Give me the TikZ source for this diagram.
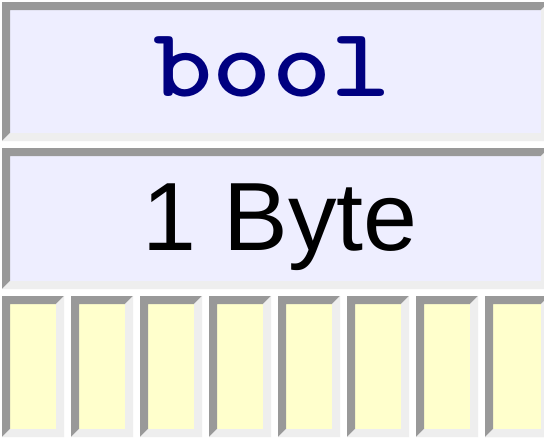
\documentclass[tikz,border=0pt]{standalone}
\usepackage{fontspec}
\usepackage{tikz}
\newfontfamily\labelfont{Liberation Sans}
\definecolor{bevelgray}{HTML}{999999}
\definecolor{bevellight}{HTML}{EEEEEE}
\definecolor{boxfill}{HTML}{EEEEFF}
\definecolor{bitfill}{HTML}{FFFFCC}
\definecolor{codeblue}{HTML}{000080}
% raised box: x0, y0, x1, y1, fill colour
\newcommand{\bevelrect}[5]{%
	\fill[#5] (#1+8,#2+8) rectangle (#3-8,#4-8);
	\fill[bevel dark] (#1,#2) -- (#3,#2) -- (#3-8,#2+8) -- (#1+8,#2+8) -- (#1+8,#4-8) -- (#1,#4) -- cycle;
	\fill[bevel light] (#3,#2) -- (#3,#4) -- (#1,#4) -- (#1+8,#4-8) -- (#3-8,#4-8) -- (#3-8,#2+8) -- cycle;
}

\begin{document}
\begin{tikzpicture}[x=1pt,y=-1pt,
			bevel dark/.style={fill=bevelgray},
			bevel light/.style={fill=bevellight},
			every node/.style={inner sep=0pt,anchor=base}]
			\useasboundingbox (0,0) rectangle (544,439);
			\clip (0,0) rectangle (544,439);
			\fill[white] (0,0) rectangle (544,439);
			
			\bevelrect{2}{2}{549}{141}{boxfill}
			\bevelrect{2}{148}{549}{289}{boxfill}
			\foreach \i in {0,...,7}
			{
				\bevelrect{2+69*\i}{296}{64+69*\i}{437}{bitfill}
			}
			\bevelrect{485}{296}{549}{437}{bitfill}
			
			\node (type) [xscale=1.15,transform shape] at (272,96) {\ttfamily\bfseries\addfontfeatures{FakeBold=1.6}\fontsize{98}{98}\selectfont\color{codeblue}bool};
			\node (size) at (280,250) {\labelfont\fontsize{97}{97}\selectfont 1 Byte};
		\end{tikzpicture}
\end{document}
